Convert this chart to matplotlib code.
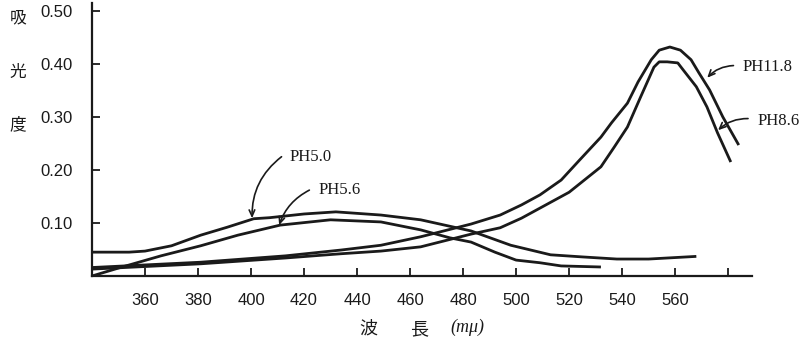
import matplotlib
matplotlib.use("Agg")
import matplotlib.pyplot as plt

# absorbance spectra read at several pH values
wl_ph50 = [340, 354, 360, 370, 381, 391, 401, 407, 420, 432, 449, 464, 483, 498, 513, 525, 538, 550, 568]
ab_ph50 = [0.045, 0.045, 0.047, 0.057, 0.077, 0.092, 0.108, 0.110, 0.117, 0.121, 0.115, 0.106, 0.085,
           0.058, 0.040, 0.036, 0.032, 0.032, 0.037]

wl_ph56 = [340, 350, 366, 381, 395, 411, 430, 449, 464, 475, 483, 492, 500, 509, 517, 532]
ab_ph56 = [0.000, 0.015, 0.038, 0.057, 0.077, 0.096, 0.106, 0.102, 0.087, 0.072, 0.064, 0.045,
           0.030, 0.025, 0.019, 0.017]

wl_ph86 = [340, 381, 413, 434, 449, 464, 483, 494, 502, 520, 532, 537, 542, 547, 552, 554, 557,
           561, 563, 568, 572, 576, 581]
ab_ph86 = [0.013, 0.023, 0.034, 0.042, 0.047, 0.055, 0.079, 0.091, 0.109, 0.158, 0.206, 0.243,
           0.281, 0.338, 0.394, 0.404, 0.404, 0.402, 0.389, 0.357, 0.319, 0.270, 0.215]

wl_ph118 = [340, 381, 413, 434, 449, 464, 483, 494, 502, 509, 517, 524, 532, 536, 542, 546, 551,
            554, 558, 562, 566, 569, 573, 578, 584]
ab_ph118 = [0.016, 0.026, 0.038, 0.049, 0.058, 0.074, 0.098, 0.115, 0.134, 0.153, 0.181, 0.219,
            0.262, 0.289, 0.326, 0.366, 0.408, 0.426, 0.432, 0.426, 0.408, 0.383, 0.351, 0.300, 0.247]

xticks = [360, 380, 400, 420, 440, 460, 480, 500, 520, 540, 560, 580]
xtick_labels = ["360", "380", "400", "420", "440", "460", "480", "500", "520", "540", "560", ""]
yticks = [0.10, 0.20, 0.30, 0.40, 0.50]
ytick_labels = ["0.10", "0.20", "0.30", "0.40", "0.50"]

ink = "#1a1a1a"
num_font = ["Liberation Sans", "DejaVu Sans"]
cjk_font = ["Noto Sans CJK JP", "DejaVu Sans"]

fig = plt.figure(figsize=(8.07, 3.41), dpi=100)
ax = fig.add_axes([92 / 807, 65 / 341, 660 / 807, 273 / 341])

for wl, ab in [(wl_ph50, ab_ph50), (wl_ph56, ab_ph56), (wl_ph86, ab_ph86), (wl_ph118, ab_ph118)]:
    ax.plot(wl, ab, color=ink, lw=2.0, solid_capstyle="butt", solid_joinstyle="round")

ax.set_xlim(340, 589)
ax.set_ylim(0, 0.515)
ax.spines["top"].set_visible(False)
ax.spines["right"].set_visible(False)
for s in ["left", "bottom"]:
    ax.spines[s].set_linewidth(1.6)
    ax.spines[s].set_color(ink)

ax.set_xticks(xticks)
ax.set_xticklabels(xtick_labels, family=num_font, fontsize=12)
ax.set_yticks(yticks)
ax.set_yticklabels(ytick_labels, family=num_font, fontsize=12)
ax.tick_params(direction="in", length=6, width=1.3, color=ink, labelcolor=ink)
ax.tick_params(axis="x", pad=12)
ax.tick_params(axis="y", pad=14)

# curve labels with hand-drawn style arrows
labels = [
    ("PH5.0", (400.4, 0.109), (411.5, 0.225), (414.5, 0.225), 0.25),
    ("PH5.6", (410.6, 0.096), (422.0, 0.162), (425.5, 0.162), 0.2),
    ("PH11.8", (572.1, 0.374), (582.0, 0.397), (585.5, 0.394), 0.2),
    ("PH8.6", (576.2, 0.275), (587.5, 0.297), (591.0, 0.292), 0.2),
]
for name, tip, start, txt, rad in labels:
    ax.annotate("", xy=tip, xytext=start,
                arrowprops=dict(arrowstyle="->,head_length=0.45,head_width=0.2",
                                color=ink, lw=1.2,
                                connectionstyle="arc3,rad=%s" % rad,
                                shrinkA=0, shrinkB=0))
    ax.text(txt[0], txt[1], name, family="Liberation Serif", fontsize=12,
            va="center", ha="left", color=ink, clip_on=False)

# vertical y-axis title, one character per line
for ch, y in [("吸", 18), ("光", 72), ("度", 125)]:
    fig.text(18 / 807, 1 - y / 341, ch, family=cjk_font, fontsize=12,
             ha="center", va="center", color=ink)

fig.text(368 / 807, 1 - 329 / 341, "波", family=cjk_font, fontsize=13,
         ha="center", va="center", color=ink)
fig.text(419 / 807, 1 - 329 / 341, "長", family=cjk_font, fontsize=13,
         ha="center", va="center", color=ink)
fig.text(467 / 807, 1 - 327 / 341, "(mμ)", family="Liberation Serif", style="italic",
         fontsize=13, ha="center", va="center", color=ink)

fig.savefig("out.png", dpi=100, facecolor="white")
